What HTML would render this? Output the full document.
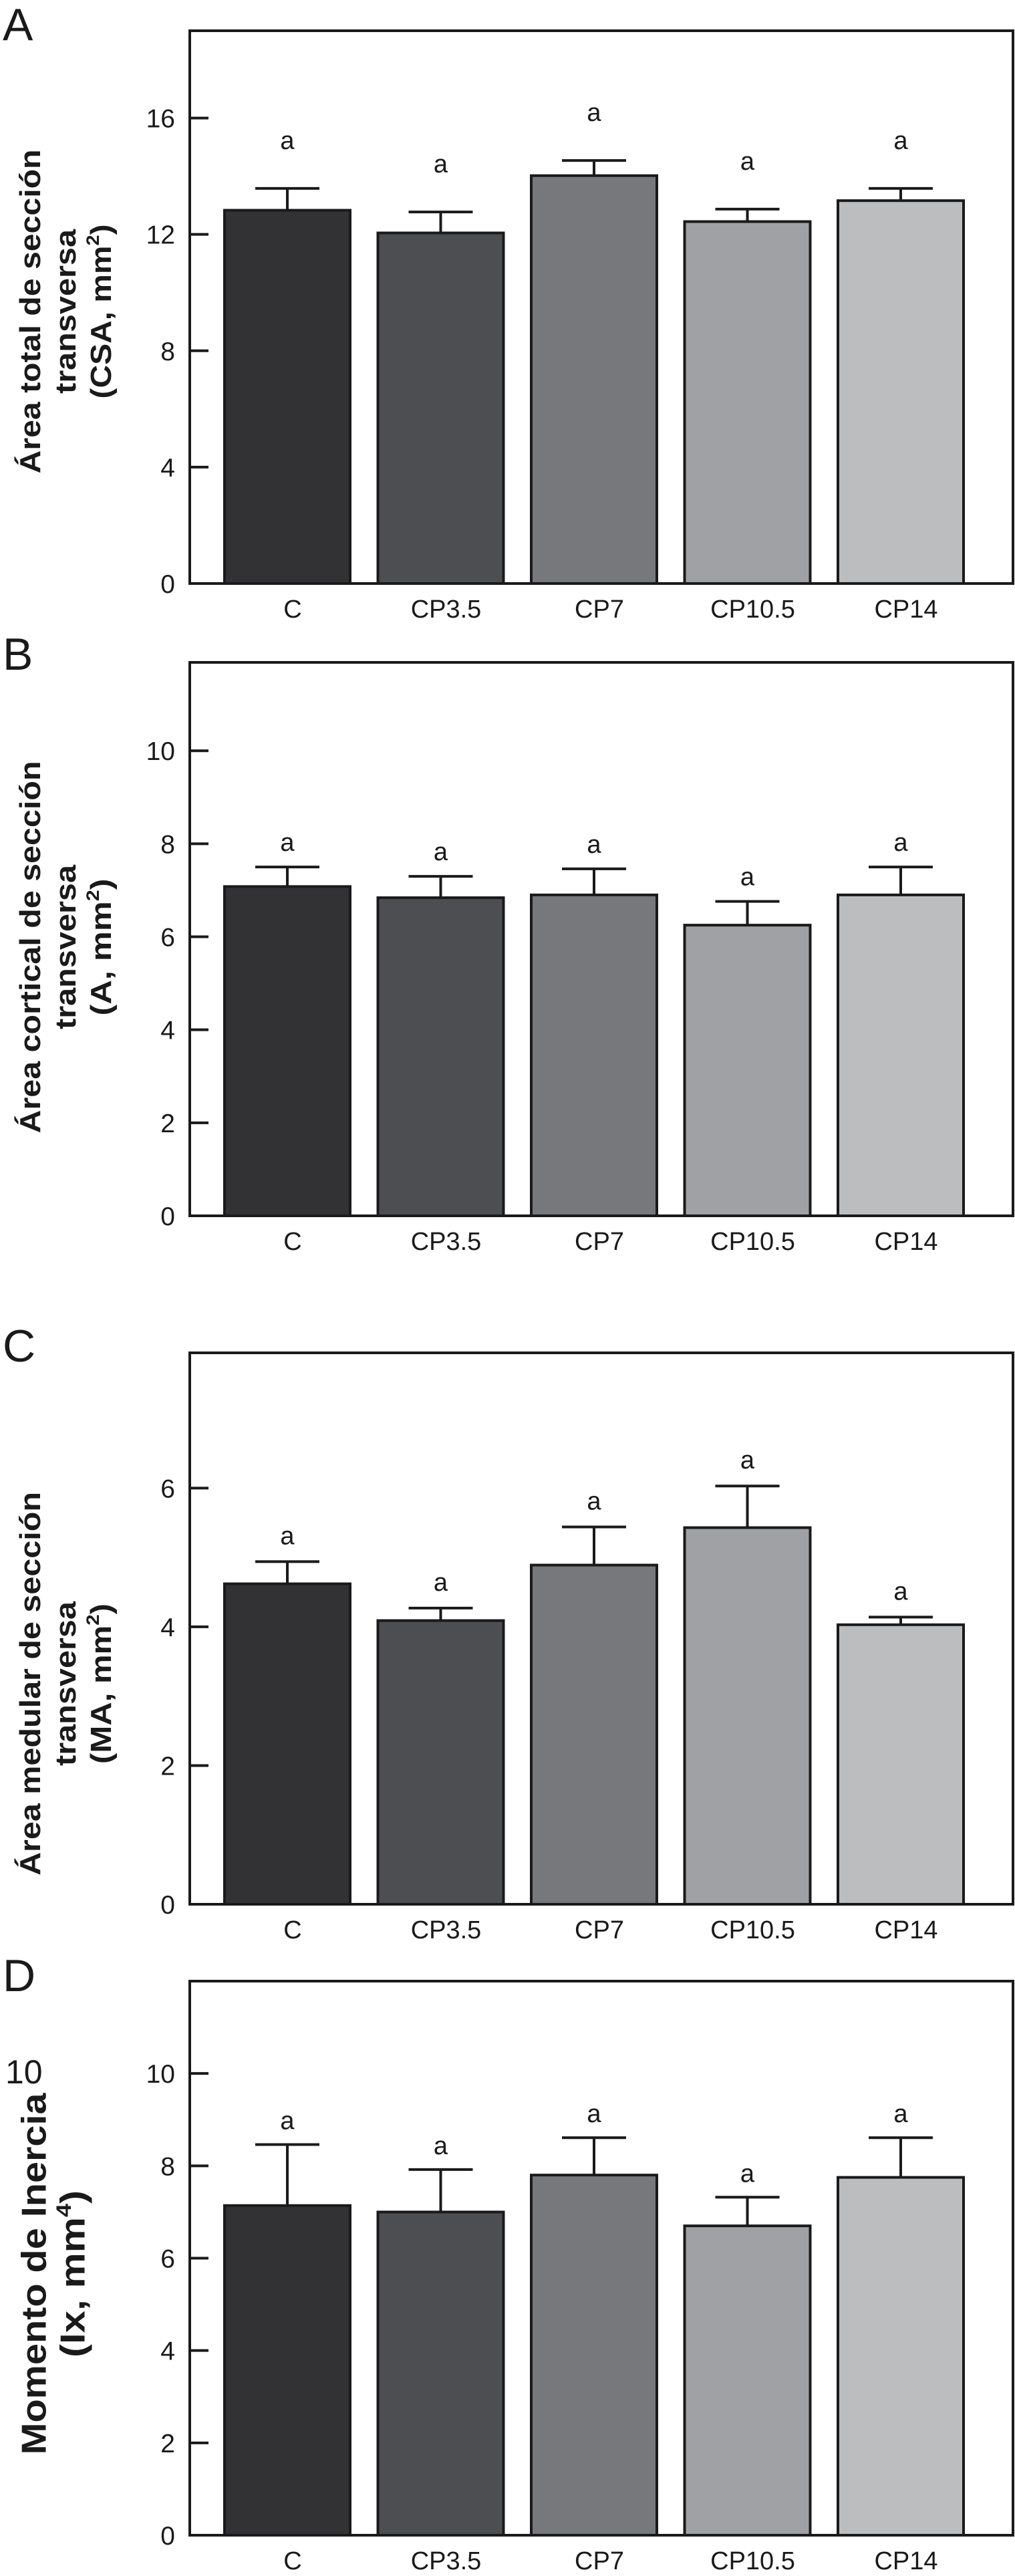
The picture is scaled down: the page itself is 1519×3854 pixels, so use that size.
<!DOCTYPE html>
<html><head><meta charset="utf-8"><style>
html,body{margin:0;padding:0;background:#fff;}
svg{display:block;}
text{font-family:"Liberation Sans",Arial,sans-serif;fill:#1a1a1a;}
</style></head><body>
<svg id="fig" width="1519" height="3854" viewBox="0 0 1519 3854" xmlns="http://www.w3.org/2000/svg"></svg>
<script>
const categories = ["C","CP3.5","CP7","CP10.5","CP14"];
const colors = ["#323134","#4d4e51","#77787c","#a0a1a4","#bcbdbf"];
const valuesA = [12.83,12.05,14.02,12.44,13.16];
const errTopA = [13.58,12.77,14.54,12.87,13.58];
const valuesB = [7.08,6.84,6.90,6.25,6.90];
const errTopB = [7.50,7.30,7.46,6.76,7.50];
const valuesC = [4.62,4.09,4.89,5.43,4.03];
const errTopC = [4.94,4.27,5.44,6.03,4.14];
const valuesD = [7.14,7.00,7.80,6.70,7.75];
const errTopD = [8.46,7.92,8.61,7.32,8.61];
const ticksA = [0,4,8,12,16];
const ticksB = [0,2,4,6,8,10];
const ticksC = [0,2,4,6];
const ticksD = [0,2,4,6,8,10];
const letters = ["a","a","a","a","a"];

const NS="http://www.w3.org/2000/svg";
const svg=document.getElementById('fig');
function mk(tag,attrs,parent){const e=document.createElementNS(NS,tag);for(const k in attrs)e.setAttribute(k,attrs[k]);(parent||svg).appendChild(e);return e;}

const panels=[
 {id:'a',label:'A',top:46,bottom:873,ymax:19,vals:valuesA,errs:errTopA,ticks:ticksA,gap:72,lblY:60,
  title:[["Área total de sección",485],["transversa",246],["(CSA, mm","2",")",261]],titleY:466,tx:[44,97,150],fs:44},
 {id:'b',label:'B',top:991,bottom:1819,ymax:11.9,vals:valuesB,errs:errTopB,ticks:ticksB,gap:37,lblY:1002,
  title:[["Área cortical de sección",557],["transversa",246],["(A, mm","2",")",205]],titleY:1417,tx:[44,97,150],fs:44},
 {id:'c',label:'C',top:2024,bottom:2849,ymax:7.95,vals:valuesC,errs:errTopC,ticks:ticksC,gap:39,lblY:2037,
  title:[["Área medular de sección",574],["transversa",246],["(MA, mm","2",")",240]],titleY:2519,tx:[44,97,150],fs:44},
 {id:'d',label:'D',top:2964,bottom:3793,ymax:12,vals:valuesD,errs:errTopD,ticks:ticksD,gap:36,lblY:2979,
  title:[["Momento de Inercia",541],["(Ix, mm","4",")",250]],titleY:3402,tx:[50,108],fs:52}
];
const L=284,R=1516;
function xCenter(i){return 430+i*229.5;}
const BW=188;

panels.forEach(p=>{
  const g=mk('g',{});
  
  
  const y=v=>p.bottom-(v/p.ymax)*(p.bottom-p.top);
  const pl=mk('text',{x:4,y:p.lblY,'font-size':68},g);
  
  
  pl.textContent=p.label;
  p.vals.forEach((v,i)=>{
    const cx=xCenter(i);
    const eb=mk('path',{d:`M${cx} ${y(v)} V${y(p.errs[i])} M${cx-48} ${y(p.errs[i])} H${cx+48}`,stroke:'#1a1a1a','stroke-width':4,fill:'none'},g);
    
    
    const r=mk('rect',{x:cx-BW/2,y:y(v),width:BW,height:p.bottom-y(v),fill:colors[i],stroke:'#1a1a1a','stroke-width':4},g);
    
    
    const t=mk('text',{x:cx,y:y(p.errs[i])-p.gap+13,'font-size':38,'text-anchor':'middle'},g);
    
    
    t.textContent=letters[i];
    const c=mk('text',{x:cx+8,y:p.bottom+51,'font-size':38,'text-anchor':'middle'},g);
    
    
    c.textContent=categories[i];
  });
  const f=mk('rect',{x:L,y:p.top,width:R-L,height:p.bottom-p.top,fill:'none',stroke:'#1a1a1a','stroke-width':4},g);
  
  
  p.ticks.forEach(t=>{
    const tk=mk('line',{x1:L,x2:L+28,y1:y(t),y2:y(t),stroke:'#1a1a1a','stroke-width':4},g);
    
    
    const tl=mk('text',{x:262,y:y(t)+14,'font-size':39,'text-anchor':'end'},g);
    
    
    tl.textContent=t;
  });
  const tg=mk('g',{transform:`translate(0 ${p.titleY}) rotate(-90)`},g);
  
  
  p.title.forEach((ln,k)=>{
    const t=mk('text',{x:0,y:p.tx[k]+p.fs*0.36,'font-size':p.fs,'font-weight':'bold','text-anchor':'middle',lengthAdjust:'spacingAndGlyphs'},tg);
    if(ln.length===2){t.setAttribute('textLength',ln[1]);t.textContent=ln[0];}
    else{
      t.setAttribute('textLength',ln[3]);
      const a=mk('tspan',{},t);a.textContent=ln[0];
      const b=mk('tspan',{'font-size':p.fs*0.6,dy:-p.fs*0.4},t);b.textContent=ln[1];
      const c=mk('tspan',{dy:p.fs*0.4},t);c.textContent=ln[2];
    }
  });
});
const stray=mk('text',{x:8,y:3117,'font-size':50});


stray.textContent='10';
</script>
</body></html>
